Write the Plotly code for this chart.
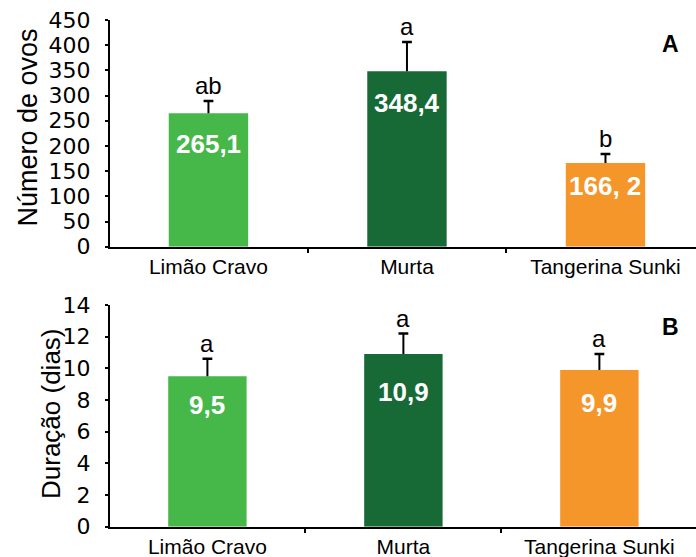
import plotly.graph_objects as go

# Data
categories = ["Limão Cravo", "Murta", "Tangerina Sunki"]
eggs = [265.1, 348.4, 166.2]
eggs_err = [24, 58, 18]
eggs_text = ["265,1", "348,4", "166, 2"]
eggs_letters = ["ab", "a", "b"]

duration = [9.5, 10.9, 9.9]
duration_err = [1.1, 1.3, 1.0]
duration_text = ["9,5", "10,9", "9,9"]
duration_letters = ["a", "a", "a"]

bar_colors = ["#46B749", "#176A35", "#F5962B"]

W, H = 696, 557
FONT = "Liberation Sans, Arial, sans-serif"
TICK_FONT = "DejaVu Sans, Liberation Sans, sans-serif"

# vertical drop (px) of the value labels below each bar top
drop_a = [31, 32, 23]
drop_b = [29, 38, 33]

fig = go.Figure()


def add_panel(xa, ya, values, errs, texts, letters, drops):
    xref = "x" if xa == "x" else "x2"
    yref = "y" if ya == "y" else "y2"
    fig.add_trace(go.Bar(
        x=categories, y=values, xaxis=xa, yaxis=ya, width=0.4,
        marker=dict(color=bar_colors, line=dict(width=0)),
        error_y=dict(type="data", array=errs, arrayminus=[0] * len(errs),
                     symmetric=False, color="black", thickness=2, width=0),
        showlegend=False, hoverinfo="skip",
    ))
    # caps on the upper end of the error bars only
    fig.add_trace(go.Scatter(
        x=categories, y=[v + e for v, e in zip(values, errs)],
        xaxis=xa, yaxis=ya, mode="markers",
        marker=dict(symbol="line-ew", size=7,
                    line=dict(color="black", width=2.5)),
        showlegend=False, hoverinfo="skip",
    ))
    for c, v, e, t, l, d in zip(categories, values, errs, texts, letters, drops):
        fig.add_annotation(x=c, y=v, xref=xref, yref=yref, text=t,
                           showarrow=False, yanchor="middle", yshift=-d,
                           font=dict(family=FONT, size=26, color="white",
                                     weight="bold"))
        fig.add_annotation(x=c, y=v + e, xref=xref, yref=yref, text=l,
                           showarrow=False, yanchor="bottom", yshift=0,
                           font=dict(family=FONT, size=24, color="black"))


add_panel("x", "y", eggs, eggs_err, eggs_text, eggs_letters, drop_a)
add_panel("x2", "y2", duration, duration_err, duration_text,
          duration_letters, drop_b)

x_left = 110 / W
axis_common = dict(showline=True, linecolor="black", linewidth=2,
                   showgrid=False, zeroline=False, automargin=False)

xaxis_common = dict(axis_common, type="category", tickson="boundaries",
                    ticks="outside", ticklen=4, tickwidth=1.5,
                    tickcolor="black", domain=[x_left, 1],
                    tickfont=dict(family=FONT, size=21, color="black"))
yaxis_common = dict(axis_common, ticks="outside", ticklen=3, tickwidth=1.5,
                    tickcolor="black", ticklabelstandoff=10,
                    tickfont=dict(family=TICK_FONT, size=22, color="black"))

fig.update_layout(
    width=W, height=H,
    margin=dict(l=0, r=0, t=0, b=0),
    paper_bgcolor="white", plot_bgcolor="white",
    xaxis=dict(xaxis_common, range=[-0.496, 2.456], anchor="y"),
    yaxis=dict(yaxis_common, range=[0, 450], dtick=50,
               domain=[1 - 246.7 / H, 1 - 20 / H], anchor="x"),
    xaxis2=dict(xaxis_common, range=[-0.497, 2.493], anchor="y2"),
    yaxis2=dict(yaxis_common, range=[0, 14], dtick=2,
                domain=[1 - 526.7 / H, 1 - 305 / H], anchor="x2"),
    bargap=0.6,
)

# axis titles
fig.add_annotation(x=27 / W, y=1 - 127.5 / H, xref="paper", yref="paper",
                   text="Número de ovos", textangle=-90, showarrow=False,
                   xanchor="center", yanchor="middle",
                   font=dict(family=FONT, size=27, color="black"))
fig.add_annotation(x=51 / W, y=1 - 413 / H, xref="paper", yref="paper",
                   text="Duração (dias)", textangle=-90, showarrow=False,
                   xanchor="center", yanchor="middle",
                   font=dict(family=FONT, size=26, color="black"))

# panel letters
fig.add_annotation(x=670 / W, y=1 - 44 / H, xref="paper", yref="paper",
                   text="A", showarrow=False, xanchor="center",
                   yanchor="middle",
                   font=dict(family=FONT, size=23, color="black",
                             weight="bold"))
fig.add_annotation(x=670 / W, y=1 - 327 / H, xref="paper", yref="paper",
                   text="B", showarrow=False, xanchor="center",
                   yanchor="middle",
                   font=dict(family=FONT, size=23, color="black",
                             weight="bold"))

fig.write_html("out.html")
